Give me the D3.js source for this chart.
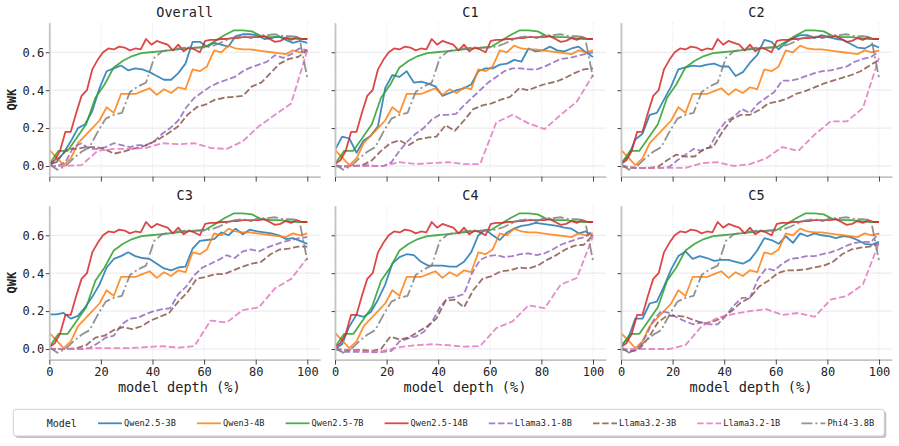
<!DOCTYPE html>
<html>
<head>
<meta charset="utf-8">
<script src="https://cdn.jsdelivr.net/npm/d3@7"></script>
<style>
  body { margin: 0; background: #fff; }
  text { font-family: "DejaVu Sans Mono", "Liberation Mono", monospace; fill: #222; }
</style>
</head>
<body>
<svg id="chart" width="899" height="446"></svg>
<script>
// ---------- DATA ----------
// QWK per layer, x = model depth (%) = layer / last layer * 100

const PANELS = ["Overall", "C1", "C2", "C3", "C4", "C5"];
const MODEL_NAMES = ["Qwen2.5-3B", "Qwen3-4B", "Qwen2.5-7B", "Qwen2.5-14B",
                     "Llama3.1-8B", "Llama3.2-3B", "Llama3.2-1B", "Phi4-3.8B"];
const X_TICKS = [0, 20, 40, 60, 80, 100];
const Y_TICKS = [0, 0.2, 0.4, 0.6];

// these four curves look the same in every panel
const QWEN3_4B = [0.085,0.045,0.005,0.04,0.12,0.16,0.20,0.24,0.31,0.28,0.38,0.38,0.38,0.395,0.41,0.375,0.405,0.385,0.415,0.405,
  0.51,0.50,0.525,0.61,0.60,0.635,0.62,0.615,0.615,0.61,0.605,0.60,0.595,0.59,0.61,0.60,0.61];
const QWEN25_7B = [0.01,0.08,0.08,0.15,0.22,0.36,0.43,0.52,0.555,0.58,0.595,0.60,0.605,0.61,0.615,0.62,0.625,0.63,0.66,0.69,
  0.715,0.715,0.71,0.685,0.68,0.68,0.675,0.67,0.67];
const QWEN25_14B = [0.01,0.03,0.08,0.18,0.18,0.28,0.37,0.40,0.51,0.56,0.60,0.62,0.615,0.63,0.625,0.61,0.62,0.615,0.67,0.64,
  0.66,0.65,0.64,0.61,0.64,0.605,0.625,0.615,0.60,0.66,0.665,0.665,0.67,0.67,0.675,0.675,0.68,0.68,0.68,0.68,
  0.685,0.67,0.655,0.66,0.675,0.665,0.68,0.67,0.67];
const PHI4 = [0.01,-0.02,0.0,0.04,0.075,0.10,0.18,0.25,0.27,0.28,0.39,0.42,0.44,0.57,0.605,0.615,0.62,0.625,0.625,0.625,
  0.63,0.645,0.665,0.68,0.685,0.675,0.69,0.69,0.695,0.685,0.685,0.68,0.465];

// these differ per panel
const QWEN25_3B = {
  Overall: [0.01,0.02,0.07,0.13,0.20,0.22,0.29,0.41,0.50,0.515,0.53,0.505,0.515,0.51,0.495,0.475,0.455,0.455,0.49,0.54,
    0.655,0.655,0.63,0.65,0.64,0.63,0.685,0.695,0.695,0.69,0.67,0.675,0.685,0.665,0.65,0.66,0.65],
  C1: [0.085,0.155,0.145,0.07,0.135,0.16,0.21,0.41,0.48,0.47,0.50,0.44,0.445,0.435,0.42,0.37,0.385,0.40,0.41,0.43,
    0.50,0.515,0.515,0.535,0.54,0.56,0.55,0.62,0.605,0.61,0.63,0.61,0.605,0.62,0.63,0.60,0.575],
  C2: [0.015,0.05,0.14,0.17,0.27,0.28,0.35,0.42,0.51,0.52,0.53,0.525,0.535,0.54,0.525,0.525,0.475,0.495,0.545,0.585,
    0.665,0.655,0.615,0.65,0.675,0.69,0.69,0.675,0.69,0.68,0.67,0.665,0.645,0.625,0.62,0.64,0.625],
  C3: [0.183,0.183,0.19,0.16,0.175,0.22,0.275,0.34,0.43,0.475,0.49,0.51,0.49,0.48,0.475,0.45,0.425,0.415,0.43,0.435,
    0.53,0.57,0.575,0.58,0.615,0.60,0.635,0.605,0.63,0.62,0.615,0.61,0.60,0.58,0.585,0.57,0.555],
  C4: [0.0,0.025,0.12,0.18,0.17,0.195,0.26,0.34,0.45,0.485,0.50,0.495,0.46,0.44,0.44,0.44,0.435,0.435,0.46,0.51,
    0.60,0.63,0.60,0.575,0.615,0.635,0.65,0.655,0.665,0.66,0.655,0.65,0.64,0.635,0.61,0.62,0.595],
  C5: [0.02,0.055,0.16,0.16,0.24,0.25,0.33,0.42,0.49,0.515,0.475,0.49,0.48,0.465,0.47,0.47,0.46,0.45,0.47,0.52,
    0.585,0.575,0.555,0.595,0.56,0.61,0.595,0.61,0.60,0.595,0.585,0.595,0.59,0.575,0.555,0.55,0.565]
};
const LLAMA31_8B = {
  Overall: [0.0,0.0,0.02,0.10,0.12,0.09,0.09,0.10,0.12,0.11,0.10,0.11,0.11,0.13,0.17,0.20,0.24,0.31,0.36,0.39,
    0.42,0.44,0.455,0.47,0.50,0.52,0.535,0.55,0.585,0.57,0.59,0.62,0.61],
  C1: [0.0,-0.005,0.0,0.0,0.005,0.0,0.0,0.02,0.08,0.13,0.17,0.20,0.245,0.27,0.27,0.275,0.32,0.36,0.40,0.44,
    0.47,0.50,0.515,0.515,0.51,0.51,0.525,0.545,0.565,0.57,0.58,0.59,0.60],
  C2: [0.0,-0.005,-0.01,-0.01,-0.01,-0.01,-0.005,0.03,0.06,0.09,0.08,0.10,0.18,0.235,0.26,0.30,0.28,0.33,0.36,0.39,
    0.45,0.45,0.46,0.475,0.49,0.50,0.505,0.515,0.525,0.55,0.565,0.575,0.605],
  C3: [0.0,0.0,0.0,0.0,0.0,0.005,0.03,0.06,0.07,0.13,0.16,0.165,0.185,0.20,0.21,0.215,0.29,0.33,0.39,0.43,
    0.45,0.47,0.495,0.48,0.515,0.525,0.515,0.535,0.55,0.565,0.575,0.585,0.59],
  C4: [0.0,-0.015,-0.015,-0.015,-0.015,-0.018,-0.015,-0.01,0.04,0.055,0.065,0.09,0.14,0.22,0.27,0.275,0.29,0.40,0.47,0.49,
    0.495,0.485,0.49,0.50,0.505,0.495,0.505,0.525,0.55,0.565,0.58,0.59,0.625],
  C5: [0.0,-0.01,-0.005,0.06,0.15,0.20,0.19,0.165,0.145,0.13,0.14,0.13,0.13,0.175,0.23,0.27,0.27,0.37,0.425,0.415,
    0.45,0.475,0.48,0.49,0.49,0.50,0.51,0.525,0.545,0.56,0.565,0.565,0.61]
};
const LLAMA32_3B = {
  Overall: [0.0,0.04,0.09,0.09,0.10,0.10,0.09,0.065,0.075,0.09,0.10,0.12,0.145,0.175,0.21,0.27,0.31,0.325,0.35,0.36,
    0.365,0.37,0.42,0.44,0.49,0.54,0.565,0.575,0.61],
  C1: [0.0,0.0,0.0,0.005,0.03,0.08,0.12,0.135,0.11,0.14,0.15,0.155,0.215,0.185,0.24,0.30,0.32,0.33,0.35,0.365,
    0.41,0.40,0.42,0.435,0.445,0.465,0.49,0.51,0.515],
  C2: [0.0,-0.01,-0.01,-0.01,-0.005,0.03,0.06,0.05,0.05,0.09,0.10,0.18,0.245,0.27,0.27,0.295,0.33,0.34,0.355,0.38,
    0.395,0.415,0.435,0.45,0.465,0.48,0.50,0.53,0.56],
  C3: [0.0,0.0,0.0,0.005,0.02,0.06,0.07,0.10,0.115,0.105,0.12,0.15,0.17,0.19,0.25,0.30,0.37,0.38,0.395,0.395,
    0.415,0.435,0.45,0.46,0.50,0.525,0.53,0.54,0.54],
  C4: [0.0,-0.005,-0.005,-0.005,-0.01,0.0,0.065,0.05,0.06,0.09,0.12,0.16,0.255,0.26,0.22,0.31,0.37,0.385,0.41,0.415,
    0.43,0.425,0.44,0.47,0.495,0.525,0.545,0.55,0.60],
  C5: [0.0,-0.015,0.0,0.06,0.14,0.175,0.175,0.17,0.15,0.135,0.145,0.165,0.20,0.245,0.27,0.33,0.36,0.40,0.415,0.415,
    0.42,0.43,0.44,0.46,0.50,0.525,0.535,0.54,0.555]
};
const LLAMA32_1B = {
  Overall: [0.0,0.0,0.005,0.08,0.09,0.09,0.095,0.12,0.115,0.12,0.095,0.09,0.13,0.21,0.27,0.33,0.61],
  C1: [0.0,0.0,0.0,0.0,0.02,0.01,0.015,0.02,0.01,0.01,0.23,0.27,0.225,0.195,0.27,0.34,0.48],
  C2: [0.0,-0.01,-0.01,-0.01,-0.01,0.015,0.02,0.0,0.01,0.04,0.10,0.08,0.165,0.235,0.235,0.305,0.57],
  C3: [0.0,0.0,0.0,0.005,0.005,0.005,0.01,0.015,0.007,0.015,0.15,0.14,0.205,0.22,0.32,0.37,0.48],
  C4: [0.0,-0.005,-0.015,-0.01,0.01,0.02,0.025,0.02,0.012,0.015,0.11,0.145,0.23,0.215,0.34,0.375,0.595],
  C5: [0.0,0.0,0.0,0.0,0.02,0.12,0.165,0.185,0.20,0.21,0.18,0.19,0.17,0.26,0.28,0.34,0.56]
};

// ---------- STYLE ----------
const COLORS = ["#1f77b4", "#ff7f0e", "#2ca02c", "#d62728", "#9467bd", "#8c564b", "#e377c2", "#7f7f7f"];
const DASHES = [null, null, null, null, "6.5,2.7", "6.5,2.7", "6.5,2.7", "11,3,2,3"];

// series for one panel, in legend order
function panelSeries(p) {
  return [QWEN25_3B[p], QWEN3_4B, QWEN25_7B, QWEN25_14B,
          LLAMA31_8B[p], LLAMA32_3B[p], LLAMA32_1B[p], PHI4];
}

// ---------- LAYOUT ----------
const svg = d3.select("#chart");
const colLeft = [49.3, 335, 621];
const rowTop = [22.7, 205.7];
const plotW = 270.9, plotH = 153.9;

const x = d3.scaleLinear().domain([0, 105]).range([0, plotW]);
const y = d3.scaleLinear().domain([-0.056, 0.756]).range([plotH, 0]);

const line = d3.line()
  .x((d, i, arr) => x(i / (arr.length - 1) * 100))
  .y(d => y(d));

svg.append("defs").append("clipPath").attr("id", "clip")
  .append("rect").attr("x", 0).attr("y", 0).attr("width", plotW).attr("height", plotH);

PANELS.forEach((p, k) => {
  const col = k % 3, row = Math.floor(k / 3);
  const g = svg.append("g").attr("transform", `translate(${colLeft[col]},${rowTop[row]})`);

  // grid
  g.selectAll(".hgrid").data(Y_TICKS).join("line")
    .attr("x1", 0).attr("x2", plotW)
    .attr("y1", d => y(d)).attr("y2", d => y(d))
    .attr("stroke", "#e6e6e6").attr("stroke-width", 0.9);
  g.selectAll(".vgrid").data(X_TICKS).join("line")
    .attr("x1", d => x(d)).attr("x2", d => x(d))
    .attr("y1", 0).attr("y2", plotH)
    .attr("stroke", "#e6e6e6").attr("stroke-width", 0.8)
    .attr("stroke-dasharray", "1.5,1.5");

  // lines
  const lg = g.append("g").attr("clip-path", "url(#clip)");
  panelSeries(p).forEach((vals, m) => {
    lg.append("path")
      .datum(vals)
      .attr("d", line)
      .attr("fill", "none")
      .attr("stroke", COLORS[m])
      .attr("stroke-opacity", 0.85)
      .attr("stroke-width", 1.8)
      .attr("stroke-linejoin", "round")
      .attr("stroke-dasharray", DASHES[m]);
  });

  // axes
  const xAxis = d3.axisBottom(x).tickValues(X_TICKS).tickSize(5).tickSizeOuter(0).tickPadding(3)
    .tickFormat(row === 1 ? d3.format("d") : "");
  const yAxis = d3.axisLeft(y).tickValues(Y_TICKS).tickSize(3.5).tickSizeOuter(0).tickPadding(1.5)
    .tickFormat(col === 0 ? d3.format(".1f") : "");

  const xa = g.append("g").attr("transform", `translate(0,${plotH})`).call(xAxis);
  const ya = g.append("g").call(yAxis);
  [xa, ya].forEach(a => {
    a.select(".domain").attr("stroke", "#c4c4c4").attr("stroke-width", 1.8);
    a.selectAll(".tick line").attr("stroke", "#444").attr("stroke-width", 1);
    a.selectAll(".tick text")
      .attr("font-family", '"DejaVu Sans Mono", monospace')
      .attr("font-size", 12).attr("fill", "#222");
  });

  // title
  g.append("text")
    .attr("x", plotW / 2).attr("y", -6)
    .attr("text-anchor", "middle")
    .attr("font-size", 13.5)
    .text(p);

  if (col === 0) {
    g.append("text")
      .attr("transform", `translate(${15.5 - colLeft[0]},${plotH / 2}) rotate(-90)`)
      .attr("text-anchor", "middle")
      .attr("font-family", '"Liberation Sans", Arial, sans-serif')
      .attr("font-weight", "bold")
      .attr("font-size", 12)
      .text("QWK");
  }
  if (row === 1) {
    g.append("text")
      .attr("x", x(50) + 1).attr("y", plotH + 32.5)
      .attr("text-anchor", "middle")
      .attr("font-size", 13.6)
      .text("model depth (%)");
  }
});

// ---------- LEGEND ----------
const leg = svg.append("g");
leg.append("rect")
  .attr("x", 15.3).attr("y", 411.3).attr("width", 871).attr("height", 26.7)
  .attr("rx", 3).attr("fill", "#9a9a9a").attr("opacity", 0.6);
leg.append("rect")
  .attr("x", 13.3).attr("y", 409.3).attr("width", 871).attr("height", 26.7)
  .attr("rx", 3).attr("fill", "#fff").attr("stroke", "#cfcfcf").attr("stroke-width", 1);

const legY = 423.3;
leg.append("text")
  .attr("x", 46.7).attr("y", legY + 3.5)
  .attr("font-size", 10)
  .text("Model");

const charW = 5.2;
let hx = 98;
MODEL_NAMES.forEach((name, m) => {
  leg.append("line")
    .attr("x1", hx).attr("x2", hx + 24)
    .attr("y1", legY).attr("y2", legY)
    .attr("stroke", COLORS[m]).attr("stroke-opacity", 0.85)
    .attr("stroke-width", 1.8)
    .attr("stroke-dasharray", DASHES[m]);
  leg.append("text")
    .attr("x", hx + 26).attr("y", legY + 3)
    .attr("font-size", 8.64)
    .text(name);
  hx += 26 + name.length * charW + 21;
});
</script>
</body>
</html>
